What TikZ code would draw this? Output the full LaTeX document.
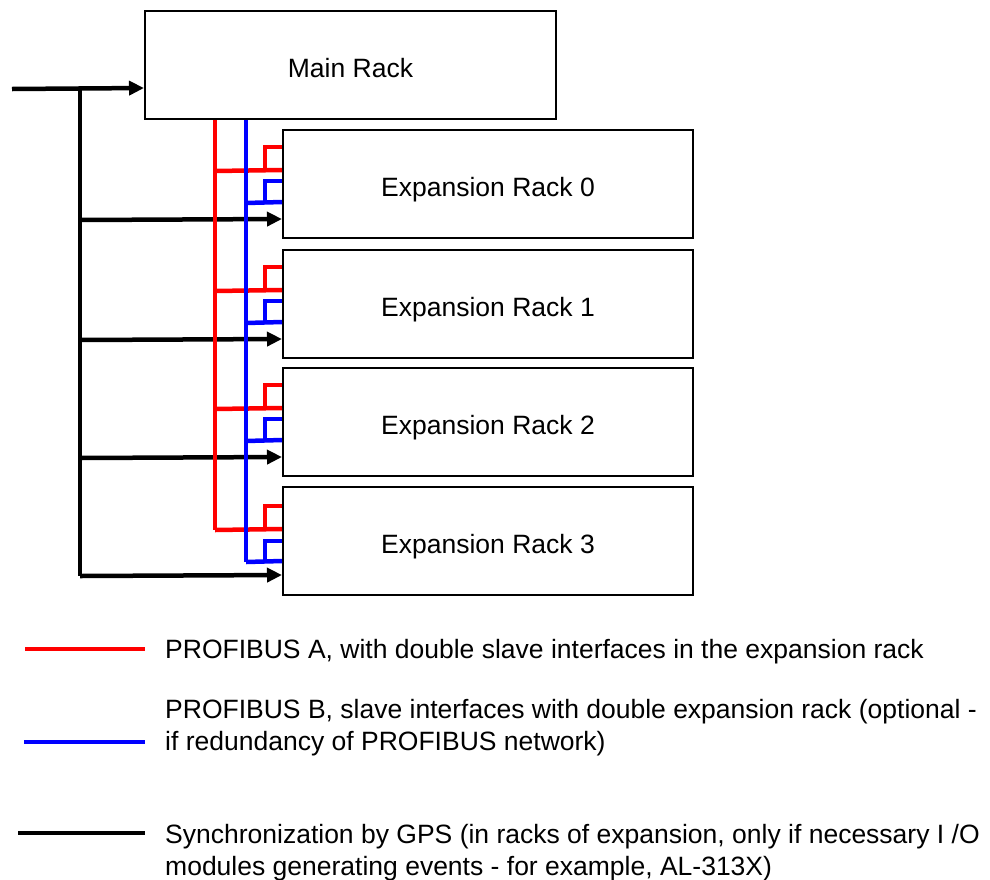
\documentclass[tikz,border=0pt]{standalone}
\usepackage{fontspec}
\setmainfont{Liberation Sans}
\usetikzlibrary{arrows.meta}

\tikzset{
  rack/.style={draw, line width=2pt, minimum width=410pt, minimum height=108pt, text height=25pt, text depth=0pt, font=\fontsize{26.5}{32}\selectfont},
  profa/.style={red, line width=4.5pt},
  profb/.style={blue, line width=4.5pt},
  gps/.style={black, line width=4.5pt},
  gpsarrow/.style={gps, -{Triangle[length=15pt,width=14pt]}},
  legtext/.style={anchor=base west, inner sep=0pt, align=left, font=\fontsize{26.5}{32}\selectfont}
}

\begin{document}
\begin{tikzpicture}[x=1pt, y=-1pt]
\useasboundingbox (0,0) rectangle (990,879);
% racks
\node[rack, minimum width=411pt] (main) at (350.5,65){Main Rack};
\node[rack] (exp0) at (488,184){Expansion Rack 0};
\node[rack] (exp1) at (488,304){Expansion Rack 1};
\node[rack] (exp2) at (488,422){Expansion Rack 2};
\node[rack] (exp3) at (488,541){Expansion Rack 3};
% GPS synchronization
\coordinate (gpsin) at (12,89);
\coordinate (gpsbus) at (80,89);
\coordinate (gpsend) at (80,576);
\draw[gpsarrow] (gpsin) -- ([yshift=-78pt]main.north west);
\draw[gps] (gpsbus) -- (gpsend);
\draw[gpsarrow] (80,220) -- ([yshift=-90pt]exp0.north west);
\draw[gpsarrow] (80,340) -- ([yshift=-90pt]exp1.north west);
\draw[gpsarrow] (80,458) -- ([yshift=-90pt]exp2.north west);
\draw[gpsarrow] (gpsend) -- ([yshift=-89pt]exp3.north west);
% PROFIBUS A
\coordinate (busa) at (215,530);
\draw[profa] (main.south -| busa) -- (busa);
\draw[profa] (215,171) -- ([yshift=-41pt]exp0.north west);
\draw[profa] (265,171) |- ([yshift=-18pt]exp0.north west);
\draw[profa] (215,291) -- ([yshift=-41pt]exp1.north west);
\draw[profa] (265,291) |- ([yshift=-18pt]exp1.north west);
\draw[profa] (215,409) -- ([yshift=-41pt]exp2.north west);
\draw[profa] (265,409) |- ([yshift=-18pt]exp2.north west);
\draw[profa] (busa) -- ([yshift=-43pt]exp3.north west);
\draw[profa] (265,530) |- ([yshift=-20pt]exp3.north west);
% PROFIBUS B
\coordinate (busb) at (246,562);
\draw[profb] (main.south -| busb) -- (busb);
\draw[profb] (246,203) -- ([yshift=-73pt]exp0.north west);
\draw[profb] (265,203) |- ([yshift=-52pt]exp0.north west);
\draw[profb] (246,323) -- ([yshift=-73pt]exp1.north west);
\draw[profb] (265,323) |- ([yshift=-52pt]exp1.north west);
\draw[profb] (246,441) -- ([yshift=-73pt]exp2.north west);
\draw[profb] (265,441) |- ([yshift=-52pt]exp2.north west);
\draw[profb] (busb) -- ([yshift=-75pt]exp3.north west);
\draw[profb] (265,562) |- ([yshift=-55pt]exp3.north west);
% legend
\coordinate (la0) at (25,649);
\coordinate (la1) at (145,649);
\coordinate (lb0) at (24,742);
\coordinate (lb1) at (145,742);
\coordinate (lc0) at (18,833);
\coordinate (lc1) at (145,833);
\draw[profa, line width=3.5pt] (la0) -- (la1);
\draw[profb, line width=3.5pt] (lb0) -- (lb1);
\draw[gps] (lc0) -- (lc1);
\node[legtext] (leda) at (165,658){PROFIBUS A, with double slave interfaces in the expansion rack};
\node[legtext] (ledb) at (165,750){PROFIBUS B, slave interfaces with double expansion rack (optional -\\if redundancy of PROFIBUS network)};
\node[legtext] (ledc) at (165,875){Synchronization by GPS (in racks of expansion, only if necessary I /O\\modules generating events - for example, AL-313X)};
\end{tikzpicture}
\end{document}
